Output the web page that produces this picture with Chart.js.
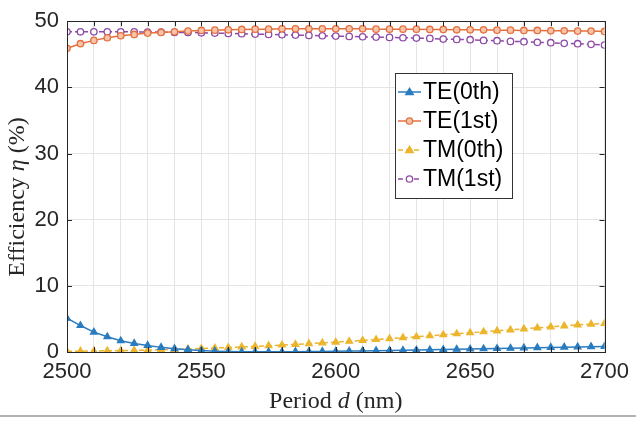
<!DOCTYPE html>
<html>
<head>
<meta charset="utf-8">
<script src="https://cdn.jsdelivr.net/npm/chart.js@4"></script>
<style>
  html, body { margin: 0; padding: 0; background: #fff; }
  #wrap { width: 636px; height: 422px; }
</style>
</head>
<body>
<div id="wrap"><canvas id="effChart" width="636" height="422"></canvas></div>
<script>
// ============================================================
// DATA
// ============================================================
const periods = [2500, 2505, 2510, 2515, 2520, 2525, 2530, 2535, 2540, 2545,
                 2550, 2555, 2560, 2565, 2570, 2575, 2580, 2585, 2590, 2595,
                 2600, 2605, 2610, 2615, 2620, 2625, 2630, 2635, 2640, 2645,
                 2650, 2655, 2660, 2665, 2670, 2675, 2680, 2685, 2690, 2695, 2700];

const teZero = [5.1, 4.0, 3.0, 2.3, 1.7, 1.3, 1.0, 0.7, 0.5, 0.35,
                0.22, 0.12, 0.06, 0.03, 0.02, 0.02, 0.03, 0.05, 0.07, 0.09,
                0.11, 0.14, 0.17, 0.2, 0.23, 0.26, 0.3, 0.33, 0.37, 0.41,
                0.45, 0.49, 0.53, 0.57, 0.61, 0.65, 0.69, 0.73, 0.77, 0.81, 0.85];

const teFirst = [45.9, 46.6, 47.1, 47.5, 47.8, 48.0, 48.2, 48.3, 48.4, 48.5,
                 48.6, 48.65, 48.7, 48.75, 48.8, 48.8, 48.85, 48.85, 48.85, 48.85,
                 48.85, 48.85, 48.85, 48.8, 48.8, 48.8, 48.8, 48.75, 48.75, 48.7,
                 48.7, 48.7, 48.65, 48.65, 48.6, 48.6, 48.55, 48.55, 48.5, 48.5, 48.45];

const tmZero = [0.1, 0.12, 0.15, 0.18, 0.21, 0.25, 0.29, 0.34, 0.39, 0.45,
                0.52, 0.6, 0.68, 0.76, 0.85, 0.95, 1.05, 1.15, 1.26, 1.37,
                1.5, 1.62, 1.75, 1.88, 2.02, 2.16, 2.3, 2.45, 2.6, 2.75,
                2.9, 3.05, 3.2, 3.35, 3.5, 3.65, 3.8, 3.95, 4.1, 4.2, 4.3];

const tmFirst = [48.4, 48.4, 48.4, 48.4, 48.4, 48.4, 48.35, 48.35, 48.3, 48.3,
                 48.25, 48.2, 48.15, 48.1, 48.05, 48.0, 47.95, 47.9, 47.85, 47.8,
                 47.75, 47.7, 47.65, 47.6, 47.55, 47.5, 47.45, 47.4, 47.3, 47.25,
                 47.2, 47.1, 47.05, 46.95, 46.9, 46.8, 46.75, 46.65, 46.6, 46.5, 46.4];

const seriesNames = ['TE(0th)', 'TE(1st)', 'TM(0th)', 'TM(1st)'];
const xTickLabels = [2500, 2550, 2600, 2650, 2700];
const yTickLabels = [0, 10, 20, 30, 40, 50];

// ============================================================
// STYLE
// ============================================================
const COL_BLUE = '#2a7cc0';
const COL_ORANGE = '#e5703f';
const COL_YELLOW = '#ecb52c';
const COL_PURPLE = '#8e4aa6';
const AXIS_COL = '#262626';
const SANS = '"Liberation Sans", Arial, sans-serif';
const SERIF = '"Liberation Serif", "Times New Roman", serif';

const toPts = arr => arr.map((v, i) => ({ x: periods[i], y: v }));

function makeSet(label, values, color, style, bg, dashed) {
    return {
        label, data: toPts(values),
        borderColor: color, backgroundColor: bg,
        pointBorderColor: color, pointBackgroundColor: bg,
        pointStyle: style, pointRadius: style === 'triangle' ? 3.8 : 3.2,
        pointBorderWidth: 1.3, borderWidth: 1.5,
        borderDash: dashed ? [5, 3] : [],
        tension: 0, fill: false
    };
}

// ============================================================
// DECORATION PLUGIN: frame, inward ticks, titles, legend
// ============================================================
const decor = {
    id: 'decor',
    afterDatasetsDraw(chart) {
        const ctx = chart.ctx;
        const { left, right, top, bottom } = chart.chartArea;
        const xs = chart.scales.x, ys = chart.scales.y;
        ctx.save();

        // box
        ctx.strokeStyle = AXIS_COL; ctx.lineWidth = 1;
        ctx.strokeRect(Math.round(left) + 0.5, Math.round(top) + 0.5, Math.round(right - left), Math.round(bottom - top));

        // inward ticks
        ctx.beginPath();
        for (let v = 2500; v <= 2700; v += 10) {
            const px = Math.round(xs.getPixelForValue(v)) + 0.5;
            ctx.moveTo(px, bottom); ctx.lineTo(px, bottom - 5);
            ctx.moveTo(px, top); ctx.lineTo(px, top + 5);
        }
        yTickLabels.forEach(v => {
            const py = Math.round(ys.getPixelForValue(v)) + 0.5;
            ctx.moveTo(left, py); ctx.lineTo(left + 5, py);
            ctx.moveTo(right, py); ctx.lineTo(right - 5, py);
        });
        ctx.stroke();

        // x title: Period d (nm)
        ctx.fillStyle = AXIS_COL;
        ctx.textBaseline = 'middle';
        const runsX = [['Period ', 'normal'], ['d', 'italic'], [' (nm)', 'normal']];
        drawRuns(ctx, runsX, (left + right) / 2, 402);

        // y title: Efficiency η (%)
        ctx.save();
        ctx.translate(18, 197);
        ctx.rotate(-Math.PI / 2);
        drawRuns(ctx, [['Efficiency ', 'normal'], ['η', 'italic'], [' (%)', 'normal']], 0, 0);
        ctx.restore();

        // legend
        const lx = 395, ly = 73, lw = 117, lh = 125;
        ctx.fillStyle = '#fff';
        ctx.fillRect(lx, ly, lw, lh);
        ctx.strokeStyle = '#333'; ctx.lineWidth = 1;
        ctx.strokeRect(lx + 0.5, ly + 0.5, lw, lh);
        chart.data.datasets.forEach((ds, i) => {
            const cy = 92 + i * 29;
            ctx.strokeStyle = ds.borderColor; ctx.lineWidth = 1.5;
            ctx.setLineDash(ds.borderDash);
            ctx.beginPath(); ctx.moveTo(398, cy); ctx.lineTo(421, cy); ctx.stroke();
            ctx.setLineDash([]);
            drawMarker(ctx, ds, 409.5, cy);
            ctx.fillStyle = '#000';
            ctx.font = '23px ' + SANS;
            ctx.textAlign = 'left'; ctx.textBaseline = 'middle';
            ctx.fillText(ds.label, 423, cy + 1);
        });

        // grey rule at the bottom of the figure
        ctx.strokeStyle = '#9a9a9a'; ctx.lineWidth = 1.5;
        ctx.beginPath(); ctx.moveTo(0, 416); ctx.lineTo(636, 416); ctx.stroke();
        ctx.restore();
    }
};

function drawRuns(ctx, runs, cx, cy) {
    ctx.textAlign = 'left';
    let total = 0;
    runs.forEach(r => { ctx.font = r[1] + ' 24px ' + SERIF; total += ctx.measureText(r[0]).width; });
    let x = cx - total / 2;
    runs.forEach(r => {
        ctx.font = r[1] + ' 24px ' + SERIF;
        ctx.fillText(r[0], x, cy);
        x += ctx.measureText(r[0]).width;
    });
}

function drawMarker(ctx, ds, x, y) {
    ctx.fillStyle = ds.pointBackgroundColor;
    ctx.strokeStyle = ds.pointBorderColor;
    ctx.lineWidth = 1.3;
    ctx.beginPath();
    if (ds.pointStyle === 'triangle') {
        const r = ds.pointRadius;
        ctx.moveTo(x, y - r); ctx.lineTo(x + r, y + r * 0.7); ctx.lineTo(x - r, y + r * 0.7); ctx.closePath();
    } else {
        ctx.arc(x, y, ds.pointRadius, 0, Math.PI * 2);
    }
    ctx.fill(); ctx.stroke();
}

// ============================================================
// CHART
// ============================================================
const ctxEff = document.getElementById('effChart').getContext('2d');
const effChart = new Chart(ctxEff, {
    type: 'line',
    data: {
        datasets: [
            makeSet(seriesNames[0], teZero, COL_BLUE, 'triangle', COL_BLUE, false),
            makeSet(seriesNames[1], teFirst, COL_ORANGE, 'circle', '#f7c3a9', false),
            makeSet(seriesNames[2], tmZero, COL_YELLOW, 'triangle', COL_YELLOW, true),
            makeSet(seriesNames[3], tmFirst, COL_PURPLE, 'circle', '#ffffff', true)
        ]
    },
    options: {
        responsive: false,
        animation: false,
        layout: { padding: { top: 18, right: 28, left: 0, bottom: 0 } },
        plugins: { legend: { display: false }, tooltip: { enabled: false } },
        scales: {
            x: {
                type: 'linear', min: 2500, max: 2700,
                afterFit: s => { s.height = 70; },
                grid: { color: '#e4e4e4', drawTicks: false },
                border: { display: false },
                ticks: {
                    stepSize: 10, autoSkip: false, maxRotation: 0, padding: 7,
                    color: AXIS_COL, font: { family: SANS, size: 22 },
                    callback: v => xTickLabels.includes(v) ? String(v) : ''
                }
            },
            y: {
                min: 0, max: 50,
                afterFit: s => { s.width = 67; },
                grid: { color: '#e4e4e4', drawTicks: false },
                border: { display: false },
                ticks: {
                    stepSize: 10, padding: 8,
                    color: AXIS_COL, font: { family: SANS, size: 22 },
                    callback: v => yTickLabels.includes(v) ? String(v) : ''
                }
            }
        }
    },
    plugins: [decor]
});
</script>
</body>
</html>
